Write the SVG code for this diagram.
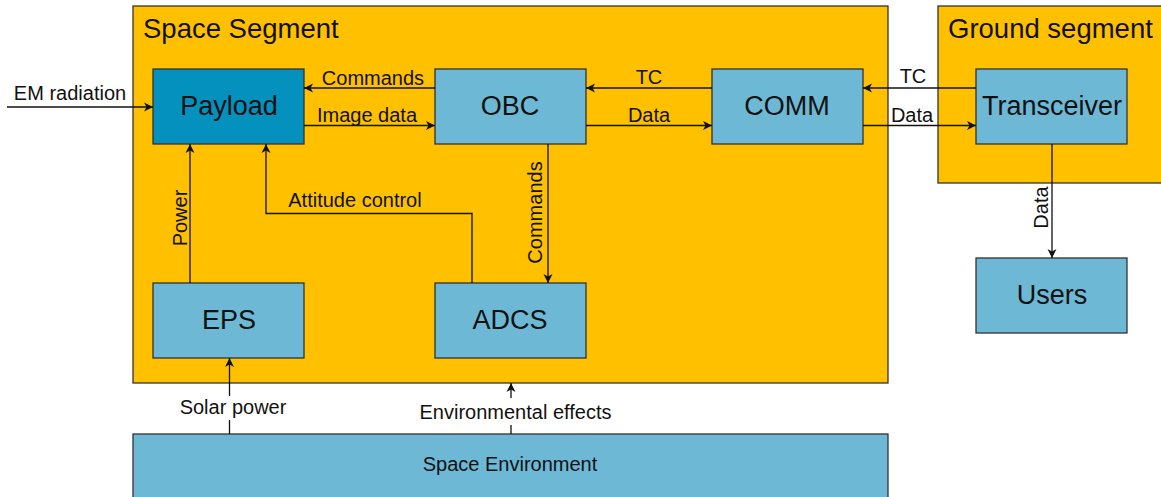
<svg xmlns="http://www.w3.org/2000/svg" width="1161" height="497" viewBox="0 0 1161 497">
<style>
.seg{fill:#FFC000;stroke:#333;stroke-width:1.3}
.nd{fill:#6CB8D5;stroke:#333;stroke-width:1.3}
.pl{fill:#0591BD;stroke:#333;stroke-width:1.3}
.big{font-family:"Liberation Sans",Arial,sans-serif;font-size:27.5px;fill:#111}
.nl{font-family:"Liberation Sans",Arial,sans-serif;font-size:27px;fill:#111;text-anchor:middle}
.lb{font-family:"Liberation Sans",Arial,sans-serif;font-size:20px;fill:#111;text-anchor:middle}
.ln{fill:none;stroke:#111;stroke-width:1.3}
</style>
<defs>
<marker id="ar" markerWidth="10" markerHeight="10" refX="9" refY="5" orient="auto" markerUnits="userSpaceOnUse">
<path d="M0,0.5 L9,5 L0,9.5 L2.5,5 Z" fill="#111"/>
</marker>
</defs>
<rect x="-5" y="-5" width="1171" height="507" fill="#fff"/>
<g id="space-segment"><rect class="seg" x="133" y="6" width="755" height="377"/><text class="big" x="143" y="38">Space Segment</text></g>
<g id="ground-segment"><rect class="seg" x="938" y="6" width="230" height="177"/><text class="big" x="948" y="38">Ground segment</text></g>
<g id="space-environment"><rect class="nd" x="133" y="434" width="755" height="70"/><text class="lb" x="510" y="471">Space Environment</text></g>
<g id="payload"><rect class="pl" x="153" y="69" width="151" height="75"/><text class="nl" x="229" y="115">Payload</text></g>
<g id="obc"><rect class="nd" x="435" y="69" width="151" height="75"/><text class="nl" x="510" y="115">OBC</text></g>
<g id="comm"><rect class="nd" x="712" y="69" width="151" height="75"/><text class="nl" x="787" y="115">COMM</text></g>
<g id="transceiver"><rect class="nd" x="976" y="69" width="151" height="75"/><text class="nl" x="1052" y="115">Transceiver</text></g>
<g id="eps"><rect class="nd" x="153" y="283" width="151" height="75"/><text class="nl" x="229" y="329">EPS</text></g>
<g id="adcs"><rect class="nd" x="435" y="283" width="151" height="75"/><text class="nl" x="510" y="329">ADCS</text></g>
<g id="users"><rect class="nd" x="976" y="258" width="151" height="75"/><text class="nl" x="1052" y="304">Users</text></g>
<g id="connectors">
<path class="ln" d="M7,107 H153" marker-end="url(#ar)"/>
<text class="lb" x="70" y="100">EM radiation</text>
<path class="ln" d="M435,88 H304" marker-end="url(#ar)"/>
<text class="lb" x="373" y="85">Commands</text>
<path class="ln" d="M304,125.5 H435" marker-end="url(#ar)"/>
<text class="lb" x="367" y="122">Image data</text>
<path class="ln" d="M712,88 H586" marker-end="url(#ar)"/>
<text class="lb" x="649" y="84">TC</text>
<path class="ln" d="M586,125.5 H712" marker-end="url(#ar)"/>
<text class="lb" x="649" y="122">Data</text>
<path class="ln" d="M976,88 H863" marker-end="url(#ar)"/>
<text class="lb" x="913" y="83">TC</text>
<path class="ln" d="M863,125.5 H976" marker-end="url(#ar)"/>
<text class="lb" x="912" y="122">Data</text>
<path class="ln" d="M548,144 V283" marker-end="url(#ar)"/>
<text class="lb" transform="translate(542,212.5) rotate(-90)">Commands</text>
<path class="ln" d="M472,283 V213.5 H266 V144" marker-end="url(#ar)"/>
<text class="lb" x="355" y="206.5">Attitude control</text>
<path class="ln" d="M190,283 V144" marker-end="url(#ar)"/>
<text class="lb" transform="translate(186.5,218) rotate(-90)">Power</text>
<path class="ln" d="M1052,144 V258" marker-end="url(#ar)"/>
<text class="lb" transform="translate(1048,207.5) rotate(-90)">Data</text>
<path class="ln" d="M229.5,434 V420 M229.5,396 V358" marker-end="url(#ar)"/>
<text class="lb" x="233" y="414">Solar power</text>
<path class="ln" d="M511,434 V425 M511,398 V383" marker-end="url(#ar)"/>
<text class="lb" x="515.5" y="419">Environmental effects</text>
</g>
</svg>
